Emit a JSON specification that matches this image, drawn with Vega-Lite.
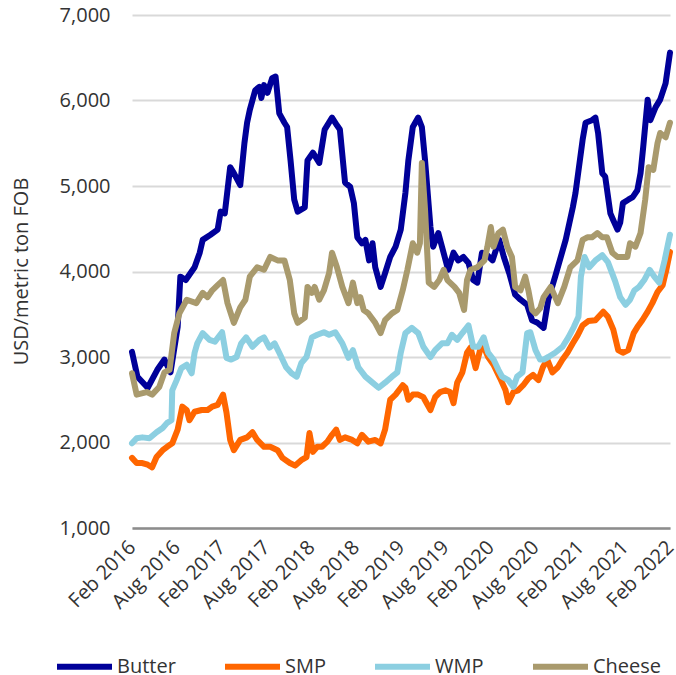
{
"$schema":"https://vega.github.io/schema/vega-lite/v6.json",
"width":538,"height":513,
"autosize":{"type":"none"},
"padding":{"left":132,"top":15,"right":6,"bottom":147},
"config":{"view":{"stroke":null},"font":"Open Sans","text":{"font":"Open Sans"}},
"data":{"values":[
{"s":"Butter","d":"2016-02-01","v":3060},{"s":"Butter","d":"2016-02-23","v":2770},{"s":"Butter","d":"2016-04-05","v":2640},{"s":"Butter","d":"2016-05-14","v":2850},{"s":"Butter","d":"2016-06-12","v":2970},{"s":"Butter","d":"2016-07-07","v":2820},{"s":"Butter","d":"2016-08-05","v":3350},{"s":"Butter","d":"2016-08-16","v":3940},{"s":"Butter","d":"2016-09-07","v":3900},{"s":"Butter","d":"2016-10-13","v":4050},{"s":"Butter","d":"2016-11-03","v":4220},{"s":"Butter","d":"2016-11-15","v":4370},{"s":"Butter","d":"2016-12-17","v":4430},{"s":"Butter","d":"2017-01-15","v":4490},{"s":"Butter","d":"2017-01-27","v":4700},{"s":"Butter","d":"2017-02-13","v":4680},{"s":"Butter","d":"2017-03-07","v":5220},{"s":"Butter","d":"2017-03-22","v":5150},{"s":"Butter","d":"2017-04-17","v":5010},{"s":"Butter","d":"2017-05-04","v":5500},{"s":"Butter","d":"2017-05-15","v":5740},{"s":"Butter","d":"2017-05-26","v":5890},{"s":"Butter","d":"2017-06-17","v":6120},{"s":"Butter","d":"2017-07-04","v":6160},{"s":"Butter","d":"2017-07-12","v":6030},{"s":"Butter","d":"2017-07-23","v":6180},{"s":"Butter","d":"2017-08-06","v":6090},{"s":"Butter","d":"2017-08-25","v":6260},{"s":"Butter","d":"2017-09-08","v":6280},{"s":"Butter","d":"2017-09-23","v":5850},{"s":"Butter","d":"2017-10-14","v":5740},{"s":"Butter","d":"2017-10-25","v":5690},{"s":"Butter","d":"2017-11-08","v":5300},{"s":"Butter","d":"2017-11-23","v":4840},{"s":"Butter","d":"2017-12-07","v":4700},{"s":"Butter","d":"2018-01-05","v":4750},{"s":"Butter","d":"2018-01-16","v":5300},{"s":"Butter","d":"2018-02-07","v":5390},{"s":"Butter","d":"2018-03-05","v":5270},{"s":"Butter","d":"2018-03-27","v":5660},{"s":"Butter","d":"2018-04-26","v":5800},{"s":"Butter","d":"2018-05-16","v":5710},{"s":"Butter","d":"2018-05-28","v":5660},{"s":"Butter","d":"2018-06-18","v":5040},{"s":"Butter","d":"2018-07-09","v":4990},{"s":"Butter","d":"2018-07-24","v":4800},{"s":"Butter","d":"2018-08-07","v":4400},{"s":"Butter","d":"2018-08-26","v":4330},{"s":"Butter","d":"2018-09-09","v":4370},{"s":"Butter","d":"2018-09-24","v":4130},{"s":"Butter","d":"2018-10-08","v":4330},{"s":"Butter","d":"2018-10-19","v":4050},{"s":"Butter","d":"2018-11-10","v":3820},{"s":"Butter","d":"2018-11-28","v":3980},{"s":"Butter","d":"2018-12-19","v":4170},{"s":"Butter","d":"2019-01-10","v":4290},{"s":"Butter","d":"2019-01-31","v":4490},{"s":"Butter","d":"2019-02-19","v":4920},{"s":"Butter","d":"2019-03-03","v":5300},{"s":"Butter","d":"2019-03-21","v":5690},{"s":"Butter","d":"2019-04-12","v":5800},{"s":"Butter","d":"2019-04-27","v":5690},{"s":"Butter","d":"2019-05-10","v":5300},{"s":"Butter","d":"2019-06-01","v":4520},{"s":"Butter","d":"2019-06-12","v":4290},{"s":"Butter","d":"2019-07-03","v":4450},{"s":"Butter","d":"2019-07-18","v":4290},{"s":"Butter","d":"2019-08-12","v":4020},{"s":"Butter","d":"2019-09-03","v":4220},{"s":"Butter","d":"2019-09-22","v":4130},{"s":"Butter","d":"2019-10-13","v":4170},{"s":"Butter","d":"2019-11-03","v":4100},{"s":"Butter","d":"2019-11-22","v":3900},{"s":"Butter","d":"2019-12-09","v":3870},{"s":"Butter","d":"2019-12-28","v":4220},{"s":"Butter","d":"2020-01-19","v":4190},{"s":"Butter","d":"2020-02-09","v":4130},{"s":"Butter","d":"2020-03-07","v":4370},{"s":"Butter","d":"2020-03-26","v":4170},{"s":"Butter","d":"2020-04-17","v":3980},{"s":"Butter","d":"2020-05-11","v":3730},{"s":"Butter","d":"2020-06-02","v":3670},{"s":"Butter","d":"2020-06-29","v":3610},{"s":"Butter","d":"2020-07-19","v":3430},{"s":"Butter","d":"2020-08-10","v":3400},{"s":"Butter","d":"2020-09-04","v":3340},{"s":"Butter","d":"2020-09-23","v":3670},{"s":"Butter","d":"2020-10-21","v":3940},{"s":"Butter","d":"2020-12-03","v":4370},{"s":"Butter","d":"2021-01-01","v":4750},{"s":"Butter","d":"2021-01-12","v":4920},{"s":"Butter","d":"2021-02-10","v":5540},{"s":"Butter","d":"2021-02-22","v":5740},{"s":"Butter","d":"2021-03-20","v":5770},{"s":"Butter","d":"2021-04-03","v":5800},{"s":"Butter","d":"2021-04-14","v":5620},{"s":"Butter","d":"2021-05-01","v":5150},{"s":"Butter","d":"2021-05-13","v":5110},{"s":"Butter","d":"2021-06-03","v":4680},{"s":"Butter","d":"2021-06-15","v":4600},{"s":"Butter","d":"2021-07-02","v":4490},{"s":"Butter","d":"2021-07-13","v":4570},{"s":"Butter","d":"2021-07-24","v":4800},{"s":"Butter","d":"2021-08-15","v":4840},{"s":"Butter","d":"2021-09-02","v":4870},{"s":"Butter","d":"2021-09-21","v":4950},{"s":"Butter","d":"2021-10-04","v":5150},{"s":"Butter","d":"2021-10-15","v":5460},{"s":"Butter","d":"2021-11-02","v":6010},{"s":"Butter","d":"2021-11-13","v":5770},{"s":"Butter","d":"2021-12-04","v":5920},{"s":"Butter","d":"2021-12-23","v":6010},{"s":"Butter","d":"2022-01-14","v":6200},{"s":"Butter","d":"2022-02-01","v":6560},
{"s":"SMP","d":"2016-02-01","v":1820},{"s":"SMP","d":"2016-02-20","v":1760},{"s":"SMP","d":"2016-03-14","v":1760},{"s":"SMP","d":"2016-04-05","v":1740},{"s":"SMP","d":"2016-04-23","v":1710},{"s":"SMP","d":"2016-05-11","v":1830},{"s":"SMP","d":"2016-06-05","v":1910},{"s":"SMP","d":"2016-06-23","v":1950},{"s":"SMP","d":"2016-07-14","v":1990},{"s":"SMP","d":"2016-08-05","v":2150},{"s":"SMP","d":"2016-08-24","v":2420},{"s":"SMP","d":"2016-09-11","v":2380},{"s":"SMP","d":"2016-09-22","v":2260},{"s":"SMP","d":"2016-10-13","v":2360},{"s":"SMP","d":"2016-11-11","v":2380},{"s":"SMP","d":"2016-12-05","v":2380},{"s":"SMP","d":"2016-12-24","v":2420},{"s":"SMP","d":"2017-01-15","v":2440},{"s":"SMP","d":"2017-02-06","v":2560},{"s":"SMP","d":"2017-02-20","v":2350},{"s":"SMP","d":"2017-03-07","v":2030},{"s":"SMP","d":"2017-03-22","v":1910},{"s":"SMP","d":"2017-04-17","v":2030},{"s":"SMP","d":"2017-05-15","v":2060},{"s":"SMP","d":"2017-06-06","v":2120},{"s":"SMP","d":"2017-06-25","v":2030},{"s":"SMP","d":"2017-07-23","v":1950},{"s":"SMP","d":"2017-08-17","v":1950},{"s":"SMP","d":"2017-09-16","v":1910},{"s":"SMP","d":"2017-10-06","v":1820},{"s":"SMP","d":"2017-11-05","v":1760},{"s":"SMP","d":"2017-11-27","v":1730},{"s":"SMP","d":"2017-12-25","v":1800},{"s":"SMP","d":"2018-01-12","v":1830},{"s":"SMP","d":"2018-01-24","v":2110},{"s":"SMP","d":"2018-02-07","v":1890},{"s":"SMP","d":"2018-02-25","v":1950},{"s":"SMP","d":"2018-03-16","v":1950},{"s":"SMP","d":"2018-04-07","v":2010},{"s":"SMP","d":"2018-04-26","v":2090},{"s":"SMP","d":"2018-05-13","v":2150},{"s":"SMP","d":"2018-05-28","v":2030},{"s":"SMP","d":"2018-06-18","v":2060},{"s":"SMP","d":"2018-07-17","v":2030},{"s":"SMP","d":"2018-08-07","v":1990},{"s":"SMP","d":"2018-08-26","v":2090},{"s":"SMP","d":"2018-09-21","v":2010},{"s":"SMP","d":"2018-10-19","v":2030},{"s":"SMP","d":"2018-11-10","v":1990},{"s":"SMP","d":"2018-11-28","v":2150},{"s":"SMP","d":"2018-12-19","v":2500},{"s":"SMP","d":"2019-01-10","v":2560},{"s":"SMP","d":"2019-02-08","v":2670},{"s":"SMP","d":"2019-02-19","v":2640},{"s":"SMP","d":"2019-03-03","v":2500},{"s":"SMP","d":"2019-03-21","v":2560},{"s":"SMP","d":"2019-04-12","v":2560},{"s":"SMP","d":"2019-05-03","v":2530},{"s":"SMP","d":"2019-06-01","v":2380},{"s":"SMP","d":"2019-06-20","v":2530},{"s":"SMP","d":"2019-07-10","v":2590},{"s":"SMP","d":"2019-08-01","v":2610},{"s":"SMP","d":"2019-08-20","v":2590},{"s":"SMP","d":"2019-09-03","v":2460},{"s":"SMP","d":"2019-09-18","v":2700},{"s":"SMP","d":"2019-10-09","v":2820},{"s":"SMP","d":"2019-10-28","v":3050},{"s":"SMP","d":"2019-11-11","v":3110},{"s":"SMP","d":"2019-12-02","v":2870},{"s":"SMP","d":"2019-12-20","v":3080},{"s":"SMP","d":"2020-01-04","v":3120},{"s":"SMP","d":"2020-01-22","v":3000},{"s":"SMP","d":"2020-02-13","v":2910},{"s":"SMP","d":"2020-03-11","v":2750},{"s":"SMP","d":"2020-04-02","v":2610},{"s":"SMP","d":"2020-04-13","v":2470},{"s":"SMP","d":"2020-05-04","v":2590},{"s":"SMP","d":"2020-05-23","v":2610},{"s":"SMP","d":"2020-06-13","v":2670},{"s":"SMP","d":"2020-07-04","v":2750},{"s":"SMP","d":"2020-07-23","v":2790},{"s":"SMP","d":"2020-08-14","v":2730},{"s":"SMP","d":"2020-09-01","v":2880},{"s":"SMP","d":"2020-09-19","v":2970},{"s":"SMP","d":"2020-10-10","v":2820},{"s":"SMP","d":"2020-11-01","v":2880},{"s":"SMP","d":"2020-11-20","v":2970},{"s":"SMP","d":"2020-12-10","v":3050},{"s":"SMP","d":"2021-01-01","v":3160},{"s":"SMP","d":"2021-01-20","v":3250},{"s":"SMP","d":"2021-02-10","v":3370},{"s":"SMP","d":"2021-03-05","v":3420},{"s":"SMP","d":"2021-04-03","v":3430},{"s":"SMP","d":"2021-05-05","v":3530},{"s":"SMP","d":"2021-05-24","v":3470},{"s":"SMP","d":"2021-06-15","v":3320},{"s":"SMP","d":"2021-07-05","v":3080},{"s":"SMP","d":"2021-07-24","v":3050},{"s":"SMP","d":"2021-08-15","v":3080},{"s":"SMP","d":"2021-09-06","v":3280},{"s":"SMP","d":"2021-09-21","v":3350},{"s":"SMP","d":"2021-10-11","v":3430},{"s":"SMP","d":"2021-11-02","v":3530},{"s":"SMP","d":"2021-11-21","v":3630},{"s":"SMP","d":"2021-12-12","v":3760},{"s":"SMP","d":"2022-01-02","v":3840},{"s":"SMP","d":"2022-01-17","v":4020},{"s":"SMP","d":"2022-02-01","v":4230},
{"s":"WMP","d":"2016-02-01","v":1990},{"s":"WMP","d":"2016-02-20","v":2050},{"s":"WMP","d":"2016-03-14","v":2060},{"s":"WMP","d":"2016-04-12","v":2050},{"s":"WMP","d":"2016-05-11","v":2120},{"s":"WMP","d":"2016-06-05","v":2170},{"s":"WMP","d":"2016-06-23","v":2230},{"s":"WMP","d":"2016-07-11","v":2260},{"s":"WMP","d":"2016-07-14","v":2610},{"s":"WMP","d":"2016-08-01","v":2730},{"s":"WMP","d":"2016-08-20","v":2870},{"s":"WMP","d":"2016-09-11","v":2910},{"s":"WMP","d":"2016-10-01","v":2810},{"s":"WMP","d":"2016-10-13","v":3050},{"s":"WMP","d":"2016-10-24","v":3160},{"s":"WMP","d":"2016-11-15","v":3280},{"s":"WMP","d":"2016-12-13","v":3200},{"s":"WMP","d":"2017-01-04","v":3180},{"s":"WMP","d":"2017-02-02","v":3290},{"s":"WMP","d":"2017-02-20","v":2990},{"s":"WMP","d":"2017-03-11","v":2970},{"s":"WMP","d":"2017-04-02","v":3000},{"s":"WMP","d":"2017-04-21","v":3160},{"s":"WMP","d":"2017-05-11","v":3230},{"s":"WMP","d":"2017-06-06","v":3120},{"s":"WMP","d":"2017-07-04","v":3200},{"s":"WMP","d":"2017-07-23","v":3230},{"s":"WMP","d":"2017-08-14","v":3110},{"s":"WMP","d":"2017-09-04","v":3160},{"s":"WMP","d":"2017-09-23","v":3050},{"s":"WMP","d":"2017-10-21","v":2880},{"s":"WMP","d":"2017-11-12","v":2810},{"s":"WMP","d":"2017-12-03","v":2770},{"s":"WMP","d":"2017-12-22","v":2930},{"s":"WMP","d":"2018-01-12","v":3000},{"s":"WMP","d":"2018-02-03","v":3230},{"s":"WMP","d":"2018-02-25","v":3260},{"s":"WMP","d":"2018-03-24","v":3290},{"s":"WMP","d":"2018-04-14","v":3260},{"s":"WMP","d":"2018-05-09","v":3290},{"s":"WMP","d":"2018-06-07","v":3160},{"s":"WMP","d":"2018-07-02","v":2990},{"s":"WMP","d":"2018-07-20","v":3080},{"s":"WMP","d":"2018-08-11","v":2880},{"s":"WMP","d":"2018-09-09","v":2770},{"s":"WMP","d":"2018-10-08","v":2700},{"s":"WMP","d":"2018-11-02","v":2640},{"s":"WMP","d":"2018-11-28","v":2700},{"s":"WMP","d":"2018-12-26","v":2770},{"s":"WMP","d":"2019-01-17","v":2820},{"s":"WMP","d":"2019-01-31","v":3050},{"s":"WMP","d":"2019-02-19","v":3280},{"s":"WMP","d":"2019-03-17","v":3340},{"s":"WMP","d":"2019-04-12","v":3280},{"s":"WMP","d":"2019-05-03","v":3120},{"s":"WMP","d":"2019-06-01","v":3000},{"s":"WMP","d":"2019-06-20","v":3080},{"s":"WMP","d":"2019-07-18","v":3160},{"s":"WMP","d":"2019-08-09","v":3160},{"s":"WMP","d":"2019-08-27","v":3260},{"s":"WMP","d":"2019-09-18","v":3200},{"s":"WMP","d":"2019-10-09","v":3280},{"s":"WMP","d":"2019-11-03","v":3370},{"s":"WMP","d":"2019-11-22","v":3120},{"s":"WMP","d":"2019-12-13","v":3120},{"s":"WMP","d":"2020-01-04","v":3230},{"s":"WMP","d":"2020-01-22","v":3050},{"s":"WMP","d":"2020-02-13","v":2970},{"s":"WMP","d":"2020-03-04","v":2850},{"s":"WMP","d":"2020-03-19","v":2770},{"s":"WMP","d":"2020-04-13","v":2730},{"s":"WMP","d":"2020-05-04","v":2650},{"s":"WMP","d":"2020-05-19","v":2770},{"s":"WMP","d":"2020-06-10","v":2820},{"s":"WMP","d":"2020-06-29","v":3280},{"s":"WMP","d":"2020-07-12","v":3290},{"s":"WMP","d":"2020-08-02","v":3080},{"s":"WMP","d":"2020-08-21","v":2970},{"s":"WMP","d":"2020-09-04","v":2970},{"s":"WMP","d":"2020-09-23","v":3000},{"s":"WMP","d":"2020-10-21","v":3050},{"s":"WMP","d":"2020-11-20","v":3120},{"s":"WMP","d":"2020-12-14","v":3230},{"s":"WMP","d":"2021-01-05","v":3350},{"s":"WMP","d":"2021-01-24","v":3470},{"s":"WMP","d":"2021-02-03","v":3940},{"s":"WMP","d":"2021-02-18","v":4170},{"s":"WMP","d":"2021-03-09","v":4050},{"s":"WMP","d":"2021-04-03","v":4130},{"s":"WMP","d":"2021-05-01","v":4190},{"s":"WMP","d":"2021-05-24","v":4110},{"s":"WMP","d":"2021-06-22","v":3890},{"s":"WMP","d":"2021-07-13","v":3700},{"s":"WMP","d":"2021-08-04","v":3610},{"s":"WMP","d":"2021-08-22","v":3670},{"s":"WMP","d":"2021-09-09","v":3780},{"s":"WMP","d":"2021-09-28","v":3820},{"s":"WMP","d":"2021-10-19","v":3900},{"s":"WMP","d":"2021-11-10","v":4020},{"s":"WMP","d":"2021-11-29","v":3940},{"s":"WMP","d":"2021-12-19","v":3870},{"s":"WMP","d":"2022-01-10","v":4130},{"s":"WMP","d":"2022-02-01","v":4430},
{"s":"Cheese","d":"2016-02-01","v":2810},{"s":"Cheese","d":"2016-02-20","v":2560},{"s":"Cheese","d":"2016-04-01","v":2590},{"s":"Cheese","d":"2016-04-23","v":2560},{"s":"Cheese","d":"2016-05-22","v":2650},{"s":"Cheese","d":"2016-06-12","v":2820},{"s":"Cheese","d":"2016-07-03","v":2850},{"s":"Cheese","d":"2016-07-22","v":3280},{"s":"Cheese","d":"2016-08-12","v":3510},{"s":"Cheese","d":"2016-09-11","v":3670},{"s":"Cheese","d":"2016-10-20","v":3630},{"s":"Cheese","d":"2016-11-15","v":3750},{"s":"Cheese","d":"2016-12-05","v":3700},{"s":"Cheese","d":"2016-12-24","v":3780},{"s":"Cheese","d":"2017-01-15","v":3840},{"s":"Cheese","d":"2017-02-06","v":3900},{"s":"Cheese","d":"2017-02-24","v":3630},{"s":"Cheese","d":"2017-03-22","v":3400},{"s":"Cheese","d":"2017-04-17","v":3580},{"s":"Cheese","d":"2017-05-08","v":3670},{"s":"Cheese","d":"2017-05-26","v":3940},{"s":"Cheese","d":"2017-06-25","v":4050},{"s":"Cheese","d":"2017-07-23","v":4020},{"s":"Cheese","d":"2017-08-17","v":4170},{"s":"Cheese","d":"2017-09-16","v":4130},{"s":"Cheese","d":"2017-10-14","v":4130},{"s":"Cheese","d":"2017-11-05","v":3900},{"s":"Cheese","d":"2017-11-23","v":3510},{"s":"Cheese","d":"2017-12-07","v":3400},{"s":"Cheese","d":"2018-01-05","v":3460},{"s":"Cheese","d":"2018-01-16","v":3820},{"s":"Cheese","d":"2018-02-03","v":3750},{"s":"Cheese","d":"2018-02-14","v":3820},{"s":"Cheese","d":"2018-03-05","v":3670},{"s":"Cheese","d":"2018-03-24","v":3780},{"s":"Cheese","d":"2018-04-14","v":3980},{"s":"Cheese","d":"2018-04-26","v":4220},{"s":"Cheese","d":"2018-05-16","v":4050},{"s":"Cheese","d":"2018-06-07","v":3820},{"s":"Cheese","d":"2018-07-02","v":3630},{"s":"Cheese","d":"2018-07-20","v":3870},{"s":"Cheese","d":"2018-08-07","v":3630},{"s":"Cheese","d":"2018-08-19","v":3700},{"s":"Cheese","d":"2018-09-02","v":3550},{"s":"Cheese","d":"2018-09-21","v":3510},{"s":"Cheese","d":"2018-10-19","v":3400},{"s":"Cheese","d":"2018-11-10","v":3280},{"s":"Cheese","d":"2018-11-28","v":3430},{"s":"Cheese","d":"2018-12-26","v":3510},{"s":"Cheese","d":"2019-01-17","v":3550},{"s":"Cheese","d":"2019-02-08","v":3780},{"s":"Cheese","d":"2019-02-27","v":4020},{"s":"Cheese","d":"2019-03-21","v":4330},{"s":"Cheese","d":"2019-04-08","v":4220},{"s":"Cheese","d":"2019-04-19","v":4330},{"s":"Cheese","d":"2019-04-27","v":5270},{"s":"Cheese","d":"2019-05-10","v":4720},{"s":"Cheese","d":"2019-05-25","v":3870},{"s":"Cheese","d":"2019-06-16","v":3820},{"s":"Cheese","d":"2019-07-07","v":3900},{"s":"Cheese","d":"2019-07-25","v":4020},{"s":"Cheese","d":"2019-08-09","v":3900},{"s":"Cheese","d":"2019-09-07","v":3820},{"s":"Cheese","d":"2019-09-26","v":3750},{"s":"Cheese","d":"2019-10-16","v":3550},{"s":"Cheese","d":"2019-10-28","v":3900},{"s":"Cheese","d":"2019-11-11","v":4020},{"s":"Cheese","d":"2019-12-09","v":4050},{"s":"Cheese","d":"2020-01-07","v":4130},{"s":"Cheese","d":"2020-01-19","v":4290},{"s":"Cheese","d":"2020-02-02","v":4520},{"s":"Cheese","d":"2020-02-13","v":4290},{"s":"Cheese","d":"2020-03-04","v":4450},{"s":"Cheese","d":"2020-03-22","v":4490},{"s":"Cheese","d":"2020-04-09","v":4290},{"s":"Cheese","d":"2020-04-28","v":4170},{"s":"Cheese","d":"2020-05-11","v":3820},{"s":"Cheese","d":"2020-06-02","v":3780},{"s":"Cheese","d":"2020-06-21","v":3940},{"s":"Cheese","d":"2020-07-04","v":3780},{"s":"Cheese","d":"2020-07-19","v":3550},{"s":"Cheese","d":"2020-08-02","v":3510},{"s":"Cheese","d":"2020-08-21","v":3570},{"s":"Cheese","d":"2020-09-04","v":3700},{"s":"Cheese","d":"2020-10-03","v":3820},{"s":"Cheese","d":"2020-11-01","v":3630},{"s":"Cheese","d":"2020-11-27","v":3820},{"s":"Cheese","d":"2020-12-22","v":4050},{"s":"Cheese","d":"2021-01-20","v":4130},{"s":"Cheese","d":"2021-02-10","v":4370},{"s":"Cheese","d":"2021-03-01","v":4400},{"s":"Cheese","d":"2021-03-20","v":4400},{"s":"Cheese","d":"2021-04-11","v":4450},{"s":"Cheese","d":"2021-05-01","v":4400},{"s":"Cheese","d":"2021-05-20","v":4400},{"s":"Cheese","d":"2021-06-11","v":4220},{"s":"Cheese","d":"2021-07-02","v":4170},{"s":"Cheese","d":"2021-07-20","v":4170},{"s":"Cheese","d":"2021-08-11","v":4170},{"s":"Cheese","d":"2021-08-22","v":4330},{"s":"Cheese","d":"2021-09-13","v":4290},{"s":"Cheese","d":"2021-10-04","v":4450},{"s":"Cheese","d":"2021-10-23","v":4840},{"s":"Cheese","d":"2021-11-06","v":5220},{"s":"Cheese","d":"2021-11-25","v":5190},{"s":"Cheese","d":"2021-12-12","v":5500},{"s":"Cheese","d":"2021-12-23","v":5620},{"s":"Cheese","d":"2022-01-14","v":5570},{"s":"Cheese","d":"2022-02-01","v":5740}
]},
"mark":{"type":"line","strokeWidth":6,"strokeJoin":"round","strokeCap":"round"},
"encoding":{
"x":{"field":"d","type":"temporal",
 "scale":{"type":"utc","domain":[{"year":2016,"month":2,"date":1,"utc":true},{"year":2022,"month":2,"date":1,"utc":true}]},
 "axis":{"title":null,"labelExpr":"utcFormat(datum.value, '%b %Y')",
  "values":[{"year":2016,"month":2,"date":1,"utc":true},{"year":2016,"month":8,"date":1,"utc":true},{"year":2017,"month":2,"date":1,"utc":true},{"year":2017,"month":8,"date":1,"utc":true},{"year":2018,"month":2,"date":1,"utc":true},{"year":2018,"month":8,"date":1,"utc":true},{"year":2019,"month":2,"date":1,"utc":true},{"year":2019,"month":8,"date":1,"utc":true},{"year":2020,"month":2,"date":1,"utc":true},{"year":2020,"month":8,"date":1,"utc":true},{"year":2021,"month":2,"date":1,"utc":true},{"year":2021,"month":8,"date":1,"utc":true},{"year":2022,"month":2,"date":1,"utc":true}],
  "labelAngle":-45,"labelAlign":"right","labelBaseline":"middle","labelPadding":16,"labelFontSize":20,"labelColor":"#333333","labelOverlap":false,"labelBound":false,"labelFlush":false,
  "ticks":false,"grid":false,"domainColor":"#8c8c8c","domainWidth":2.5}},
"y":{"field":"v","type":"quantitative","scale":{"domain":[1000,7000],"nice":false,"zero":false},
 "axis":{"title":"USD/metric ton FOB","titleFontSize":20,"titleFontWeight":"normal","titleColor":"#333333","titleAngle":-90,"titleX":-111,"titleY":256,"titleAlign":"center","titleBaseline":"middle",
  "values":[1000,2000,3000,4000,5000,6000,7000],"format":",.0f","labelFontSize":20,"labelColor":"#333333","labelPadding":22,
  "ticks":false,"domain":false,"grid":true,"gridColor":"#d9d9d9","gridWidth":2}},
"color":{"field":"s","type":"nominal","sort":["Butter","SMP","WMP","Cheese"],
 "scale":{"domain":["Butter","SMP","WMP","Cheese"],"range":["#000099","#ff6600","#8ccfe1","#a99a6d"]},
 "legend":{"title":null,"orient":"none","legendX":-78,"legendY":621,"direction":"horizontal","columns":4,"padding":0,
  "symbolType":"stroke","symbolSize":3025,"symbolStrokeWidth":6,"labelFontSize":20,"labelColor":"#333333","labelOffset":2,"columnPadding":37}}
}
}
